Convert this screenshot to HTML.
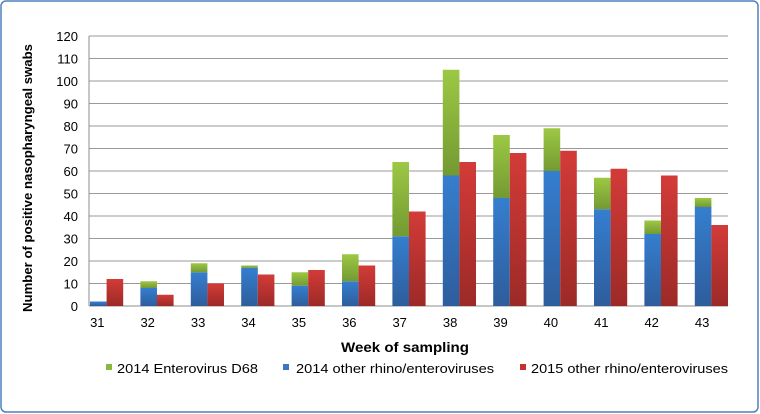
<!DOCTYPE html>
<html><head><meta charset="utf-8"><style>
html,body{margin:0;padding:0;background:#fff}
svg{display:block;font-family:"Liberation Sans",Arial,sans-serif}
</style></head><body>
<svg id="chart" width="760" height="414" viewBox="0 0 760 414">
<defs>
<linearGradient id="gG" x1="0" y1="0" x2="0" y2="1"><stop offset="0" stop-color="#9dc844"/><stop offset="1" stop-color="#739a32"/></linearGradient>
<linearGradient id="gB" x1="0" y1="0" x2="0" y2="1"><stop offset="0" stop-color="#357ecf"/><stop offset="1" stop-color="#2e5d9c"/></linearGradient>
<linearGradient id="gR" x1="0" y1="0" x2="0" y2="1"><stop offset="0" stop-color="#d33b38"/><stop offset="1" stop-color="#9c2a27"/></linearGradient>
</defs>
<rect x="1" y="1" width="757" height="411" rx="5" fill="#fff" stroke="#4f81bd" stroke-width="1.5"/>
<g id="grid"></g>
<g id="bars"></g>
<g id="xlabels"></g>
<g id="ylabels"></g>
<text x="32" y="178" transform="rotate(-90 32 178)" text-anchor="middle" font-size="13" font-weight="bold" textLength="268" lengthAdjust="spacingAndGlyphs">Number of positive nasopharyngeal swabs</text>
<text x="405" y="352" text-anchor="middle" font-size="14" font-weight="bold" textLength="128" lengthAdjust="spacingAndGlyphs">Week of sampling</text>
<g>
<g><rect x="106" y="364" width="6" height="6" fill="#8ab73e"/><text x="117" y="373" font-size="13" textLength="141" lengthAdjust="spacingAndGlyphs">2014 Enterovirus D68</text></g>
<g><rect x="283" y="364" width="6" height="6" fill="#3a76c2"/><text x="296" y="373" font-size="13" textLength="198" lengthAdjust="spacingAndGlyphs">2014 other rhino/enteroviruses</text></g>
<g><rect x="520" y="364" width="6" height="6" fill="#c7302d"/><text x="531" y="373" font-size="13" textLength="197" lengthAdjust="spacingAndGlyphs">2015 other rhino/enteroviruses</text></g>
</g>
</svg>
<script>
const weeks=["31","32","33","34","35","36","37","38","39","40","41","42","43"];
const blue2014=[2,8,15,17,9,11,31,58,48,60,43,32,44];
const green2014=[0,3,4,1,6,12,33,47,28,19,14,6,4];
const red2015=[12,5,10,14,16,18,42,64,68,69,61,58,36];
const yTicks=[0,10,20,30,40,50,60,70,80,90,100,110,120];
const NS="http://www.w3.org/2000/svg";
const x0=89,x1=728,step=50.4,bw=16.6,y0=306,yMax=120,yTop=36;
function yS(v){return y0-(v/yMax)*(y0-yTop);}
function xS(i){return x0+1+i*step;}
function mk(tag,attrs,parent){const e=document.createElementNS(NS,tag);for(const k in attrs)e.setAttribute(k,attrs[k]);parent.appendChild(e);return e;}
const grid=document.getElementById('grid'),bars=document.getElementById('bars'),xl=document.getElementById('xlabels'),yl=document.getElementById('ylabels');
yTicks.forEach(t=>{
 const l=mk('line',{x1:x0,x2:x1,y1:yS(t),y2:yS(t),stroke:t===0?'#8c8c8c':'#9a9a9a','stroke-width':1},grid);
 
 
 const tx=mk('text',{x:78,y:yS(t)+5,'text-anchor':'end','font-size':13},yl);
 tx.textContent=t;
 
 
});
mk('line',{x1:x0,x2:x0,y1:yTop,y2:y0,stroke:'#8c8c8c'},grid);
weeks.forEach((w,i)=>{
 const x=xS(i);
 const b=mk('rect',{x:x,y:yS(blue2014[i]),width:bw,height:y0-yS(blue2014[i]),fill:'url(#gB)'},bars);
 
 
 const tot=blue2014[i]+green2014[i];
 const g=mk('rect',{x:x,y:yS(tot),width:bw,height:yS(blue2014[i])-yS(tot),fill:'url(#gG)'},bars);
 
 
 const r=mk('rect',{x:x+bw,y:yS(red2015[i]),width:bw,height:y0-yS(red2015[i]),fill:'url(#gR)'},bars);
 
 
 const t=mk('text',{x:x+bw/2-1,y:327,'text-anchor':'middle','font-size':13},xl);
 t.textContent=w;
 
 
});
</script>
</body></html>
